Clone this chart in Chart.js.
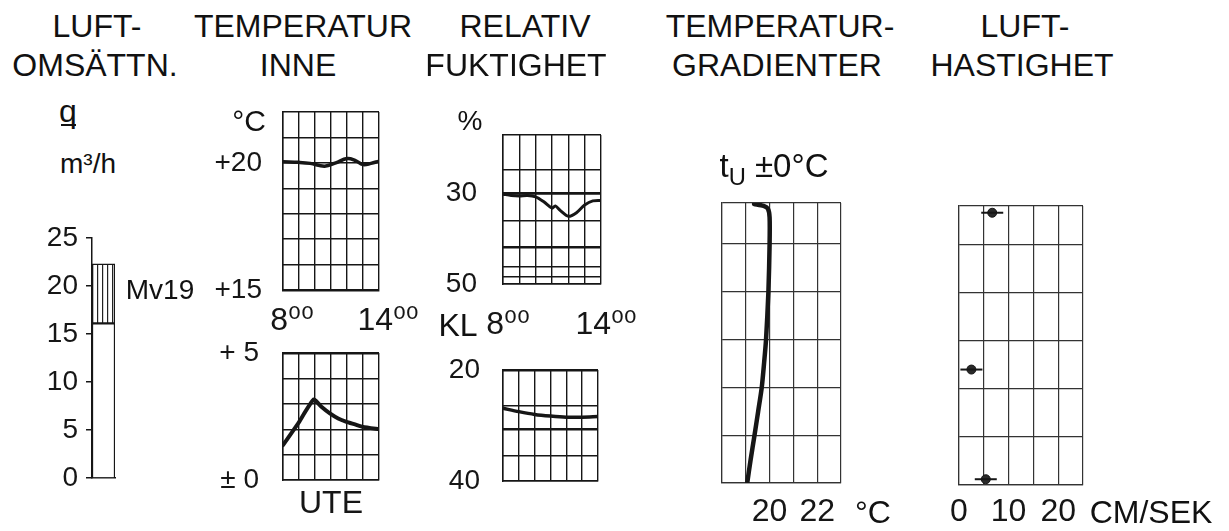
<!DOCTYPE html>
<html>
<head>
<meta charset="utf-8">
<script src="https://cdn.jsdelivr.net/npm/chart.js@4"></script>
<style>
  body { margin: 0; width: 1229px; height: 531px; position: relative; overflow: hidden; background: #fff; }
  canvas { position: absolute; }
  .lbl { position: absolute; transform: translate(-50%, -50%); line-height: 1; white-space: nowrap;
         font-family: 'Liberation Sans', 'DejaVu Sans', sans-serif; color: #111; }
</style>
</head>
<body>
<canvas id="cFlow" width="200" height="300" style="left:0;top:200px"></canvas>
<canvas id="cInne" width="240" height="250" style="left:200px;top:95px"></canvas>
<canvas id="cUte" width="240" height="196" style="left:200px;top:335px"></canvas>
<canvas id="cHumTop" width="240" height="250" style="left:420px;top:95px"></canvas>
<canvas id="cHumBot" width="240" height="186" style="left:420px;top:345px"></canvas>
<canvas id="cGrad" width="240" height="346" style="left:660px;top:185px"></canvas>
<canvas id="cSpeed" width="329" height="341" style="left:900px;top:190px"></canvas>
<div style="position:absolute;left:61px;top:124px;width:15px;height:2px;background:#111"></div>
<script>
// luftomsättning q, m3/h
const flowLabels = ['q'];
const flowTicks = [0, 5, 10, 15, 20, 25];
const flowBase = [16.1];
const flowMv19Top = [22.3];

// timmar 8-14
const hours = [8, 9, 10, 11, 12, 13, 14];
const hourLabels = ['8⁰⁰', '', '', '', '', '', '14⁰⁰'];

// temperatur inne, °C
const inneGrid = [15, 16, 17, 18, 19, 20, 21, 22];
const inneTicks = [15, 20];
const inneTickLabels = ['+15', '+20'];
const innTimes = [8, 9, 9.7, 10.6, 11.3, 12, 12.5, 13, 13.5, 14];
const innTemp = [20.04, 20.02, 19.98, 19.87, 20.0, 20.17, 20.1, 19.93, 19.98, 20.07];

// temperatur ute, °C
const uteGrid = [0, 1, 2, 3, 4, 5];
const uteThick = [5];
const uteTicks = [0, 5];
const uteTickLabels = ['± 0', '+ 5'];
const uteTimes = [8, 8.94, 9.92, 10.4, 10.93, 11.45, 11.97, 12.5, 13, 14];
const uteTemp = [1.37, 2.22, 3.17, 2.88, 2.62, 2.42, 2.29, 2.19, 2.09, 2.0];

// relativ fuktighet, % (inne / KL)
const humTopGrid = [17, 24.6, 30, 36, 41.8, 46.2, 48.4, 50];
const humTopThick = [30, 41.8];
const humTopTicks = [30, 50];
const humTopTickLabels = ['30', '50'];
const humTopTimes = [8, 8.5, 9, 9.5, 10, 10.5, 11, 11.2, 11.5, 12, 12.5, 13, 13.5, 14];
const humTopVals = [30.1, 30.4, 30.5, 30.4, 30.7, 31.8, 33.2, 32.7, 33.7, 35.0, 34.2, 32.5, 31.6, 31.5];

const humBotGrid = [20, 26.4, 30.6, 35.5, 40];
const humBotThick = [20, 30.6];
const humBotTicks = [20, 40];
const humBotTickLabels = ['20', '40'];
const humBotTimes = [8, 9, 10, 11, 12, 13, 14];
const humBotVals = [26.9, 27.5, 28.0, 28.3, 28.5, 28.5, 28.4];

// temperaturgradient, höjd (m) mot °C
const gradTempGrid = [18, 19, 20, 21, 22, 23];
const gradGrid = [0, 0.5, 1, 1.5, 2, 2.5, 2.93];
const gradTemp = [19.06, 19.2, 19.36, 19.52, 19.67, 19.77, 19.85, 19.95, 20.0, 20.0, 19.93, 19.75, 19.35];
const gradHeight = [0, 0.24, 0.49, 0.75, 1.0, 1.26, 1.5, 2.0, 2.5, 2.78, 2.87, 2.9, 2.92];

// lufthastighet, cm/s
const speedTicks = [0, 5, 10, 15, 20, 25];
const speedGrid = [0, 0.5, 1, 1.5, 2, 2.5, 2.9];
const speedVals = [6.7, 2.5, 5.4];
const speedHeight = [2.83, 1.2, 0.06];

const INK = '#161616';
const FAM = "'Liberation Sans', 'DejaVu Sans', sans-serif";
const F28 = { family: FAM, size: 28 };
const F32 = { family: FAM, size: 32 };

function fit(size) {
  return function (s) {
    if (s.isHorizontal()) s.height = size; else s.width = size;
    s.paddingLeft = s.paddingRight = s.paddingTop = s.paddingBottom = 0;
  };
}
function gridAt(vals) {
  return function (s) { s.ticks = vals.map(v => ({ value: v })); };
}
function pts(xs, ys) { return xs.map((x, i) => ({ x: x, y: ys[i] })); }
function hourLabel(v) { const i = hours.indexOf(v); return i < 0 ? '' : hourLabels[i]; }

// y axis that only carries the tick labels (and the left border line)
function labelAxis(min, max, reverse, vals, texts, pad) {
  return {
    type: 'linear', position: 'left', min: min, max: max, reverse: reverse,
    afterFit: fit(83), afterBuildTicks: gridAt(vals),
    ticks: { font: F28, color: INK, padding: pad, autoSkip: false,
             callback: v => { const i = vals.indexOf(v); return i < 0 ? '' : texts[i]; } },
    grid: { display: false },
    border: { color: INK, width: 1.4 }
  };
}
// hidden axis that only draws horizontal grid lines
function gridAxis(min, max, reverse, vals, width) {
  return {
    type: 'linear', position: 'left', min: min, max: max, reverse: reverse,
    afterFit: fit(0), afterBuildTicks: gridAt(vals),
    ticks: { display: false, autoSkip: false },
    grid: { color: INK, lineWidth: width, drawTicks: false },
    border: { display: false }
  };
}

const base = {
  responsive: false, animation: false, events: [],
  plugins: { legend: { display: false }, tooltip: { enabled: false } }
};

function lineSet(xs, ys, w, tension) {
  return { data: pts(xs, ys), showLine: true, borderColor: INK, borderWidth: w,
           pointRadius: 0, tension: tension, borderCapStyle: 'round', borderJoinStyle: 'round' };
}

function hourAxis(height, showLabels, pad, offset, title) {
  return {
    type: 'linear', min: 8, max: 14, afterFit: fit(height), afterBuildTicks: gridAt(hours),
    ticks: { display: showLabels, font: F32, color: INK, padding: pad, labelOffset: offset,
             maxRotation: 0, autoSkip: false, callback: hourLabel },
    grid: { color: INK, lineWidth: 1.4, drawTicks: false },
    border: { color: INK, width: 1.4 },
    title: title || { display: false }
  };
}

// hatched pattern for Mv19
const hatch = document.createElement('canvas');
hatch.width = 5; hatch.height = 5;
const hc = hatch.getContext('2d');
hc.fillStyle = '#fff'; hc.fillRect(0, 0, 5, 5);
hc.fillStyle = '#222'; hc.fillRect(2, 0, 1.2, 5);
const hatchPattern = hc.createPattern(hatch, 'repeat');

// LUFTOMSÄTTN.
new Chart(document.getElementById('cFlow'), {
  type: 'bar',
  data: {
    labels: flowLabels,
    datasets: [
      { data: flowBase, backgroundColor: '#fff', borderColor: INK, borderWidth: 1.5, grouped: false },
      { data: flowBase.map((b, i) => [b, flowMv19Top[i]]), backgroundColor: hatchPattern,
        borderColor: INK, borderWidth: 1.5, grouped: false, borderSkipped: false }
    ]
  },
  options: Object.assign({}, base, {
    layout: { padding: { top: 38, right: 85, left: 0, bottom: 0 } },
    datasets: { bar: { barPercentage: 1, categoryPercentage: 1 } },
    scales: {
      x: { afterFit: fit(22), ticks: { display: false }, grid: { display: false },
           border: { color: INK, width: 1.5 } },
      y: { min: 0, max: 25, afterFit: fit(92), afterBuildTicks: gridAt(flowTicks),
           ticks: { font: F28, color: INK, padding: 8, autoSkip: false },
           grid: { drawOnChartArea: false, tickLength: 6, color: INK, lineWidth: 1.5 },
           border: { color: INK, width: 1.5 } }
    }
  })
});

// TEMPERATUR INNE
new Chart(document.getElementById('cInne'), {
  type: 'scatter',
  data: { datasets: [lineSet(innTimes, innTemp, 3.5, 0.4)] },
  options: Object.assign({}, base, {
    layout: { padding: { top: 17, right: 61, left: 0, bottom: 0 } },
    scales: {
      x: Object.assign(hourAxis(55, true, 12, 9), { border: { color: INK, width: 2.6 } }),
      y: labelAxis(15, 22, false, inneTicks, inneTickLabels, 13),
      yGrid: gridAxis(15, 22, false, inneGrid, 1.4)
    }
  })
});

// UTE
new Chart(document.getElementById('cUte'), {
  type: 'scatter',
  data: { datasets: [lineSet(uteTimes, uteTemp, 4, 0.15)] },
  options: Object.assign({}, base, {
    layout: { padding: { top: 18, right: 61, left: 0, bottom: 0 } },
    scales: {
      x: hourAxis(51, false, 0, 0, { display: true, text: 'UTE', font: F32, color: INK,
                                     padding: { top: 0, bottom: 8 } }),
      y: labelAxis(0, 5, false, uteTicks, uteTickLabels, 16),
      yGrid: gridAxis(0, 5, false, uteGrid, 1.4),
      yThick: gridAxis(0, 5, false, uteThick, 2.6)
    }
  })
});

// RELATIV FUKTIGHET, inne
new Chart(document.getElementById('cHumTop'), {
  type: 'scatter',
  data: { datasets: [lineSet(humTopTimes, humTopVals, 3, 0.3)] },
  options: Object.assign({}, base, {
    layout: { padding: { top: 40, right: 59, left: 0, bottom: 0 } },
    scales: {
      x: hourAxis(61, true, 22, 5),
      y: labelAxis(17, 50, true, humTopTicks, humTopTickLabels, 18),
      yGrid: gridAxis(17, 50, true, humTopGrid, 1.4),
      yThick: gridAxis(17, 50, true, humTopThick, 2.6)
    }
  })
});

// RELATIV FUKTIGHET, KL
new Chart(document.getElementById('cHumBot'), {
  type: 'scatter',
  data: { datasets: [lineSet(humBotTimes, humBotVals, 3.5, 0.3)] },
  options: Object.assign({}, base, {
    layout: { padding: { top: 25, right: 62, left: 0, bottom: 0 } },
    scales: {
      x: hourAxis(50, false, 0, 0),
      y: labelAxis(20, 40, true, humBotTicks, humBotTickLabels, 15),
      yGrid: gridAxis(20, 40, true, humBotGrid, 1.4),
      yThick: gridAxis(20, 40, true, humBotThick, 2.6)
    }
  })
});

// TEMPERATURGRADIENTER
new Chart(document.getElementById('cGrad'), {
  type: 'scatter',
  data: { datasets: [lineSet(gradTemp, gradHeight, 4.5, 0.25)] },
  options: Object.assign({}, base, {
    layout: { padding: { top: 18, right: 59, left: 0, bottom: 0 } },
    scales: {
      x: { min: 18, max: 23, afterFit: fit(48), afterBuildTicks: gridAt(gradTempGrid),
           ticks: { font: F32, color: INK, padding: 10, maxRotation: 0, autoSkip: false,
                    callback: v => v === 20 ? '20' : v === 22 ? '22' : '' },
           grid: { color: '#333', lineWidth: 1.2, drawTicks: false },
           border: { color: '#333', width: 1.2 } },
      y: { min: 0, max: 2.93, afterFit: fit(62), afterBuildTicks: gridAt(gradGrid),
           ticks: { display: false, autoSkip: false },
           grid: { color: '#333', lineWidth: 1.2, drawTicks: false },
           border: { color: '#333', width: 1.2 } }
    }
  })
});

// LUFTHASTIGHET
const speedPts = pts(speedVals, speedHeight);
new Chart(document.getElementById('cSpeed'), {
  type: 'scatter',
  data: {
    datasets: [
      { data: speedPts, pointStyle: 'line', pointRadius: 11, pointBorderWidth: 2,
        pointBorderColor: INK, clip: false },
      { data: speedPts, pointStyle: 'circle', pointRadius: 4.5, pointBackgroundColor: '#2a2a2a',
        pointBorderColor: INK, pointBorderWidth: 1, clip: false }
    ]
  },
  options: Object.assign({}, base, {
    layout: { padding: { top: 16, right: 146, left: 0, bottom: 0 } },
    scales: {
      x: { min: 0, max: 25, afterFit: fit(46), afterBuildTicks: gridAt(speedTicks),
           ticks: { font: F32, color: INK, padding: 8, maxRotation: 0, autoSkip: false,
                    callback: v => v % 10 === 0 ? String(v) : '' },
           grid: { color: '#333', lineWidth: 1.2, drawTicks: false },
           border: { color: '#333', width: 1.2 } },
      y: { min: 0, max: 2.9, afterFit: fit(59), afterBuildTicks: gridAt(speedGrid),
           ticks: { display: false, autoSkip: false },
           grid: { color: '#333', lineWidth: 1.2, drawTicks: false },
           border: { color: '#333', width: 1.2 } }
    }
  })
});

// texts
function txt(s, cx, cy, size) {
  const d = document.createElement('div');
  d.className = 'lbl';
  d.style.left = cx + 'px';
  d.style.top = cy + 'px';
  d.style.fontSize = size + 'px';
  d.innerHTML = s;
  document.body.appendChild(d);
}
txt('LUFT-', 97, 26, 32);
txt('OMSÄTTN.', 95, 65, 32);
txt('TEMPERATUR', 303, 26, 32);
txt('INNE', 298, 65, 32);
txt('RELATIV', 525, 26, 32);
txt('FUKTIGHET', 516, 65, 32);
txt('TEMPERATUR-', 780, 26, 32);
txt('GRADIENTER', 777, 65, 32);
txt('LUFT-', 1025, 26, 32);
txt('HASTIGHET', 1022, 65, 32);
txt('q', 68, 111, 32);
txt('m³/h', 88, 164, 28);
txt('Mv19', 160, 290, 28);
txt('°C', 249, 121, 30);
txt('%', 470, 121, 28);
txt('KL', 458, 325, 32);
txt('t<span style="font-size:.72em;position:relative;top:.35em">U</span> ±0°C', 774, 165, 33);
txt('°C', 873, 512, 32);
txt('CM/SEK', 1151, 512, 32);
</script>
</body>
</html>
